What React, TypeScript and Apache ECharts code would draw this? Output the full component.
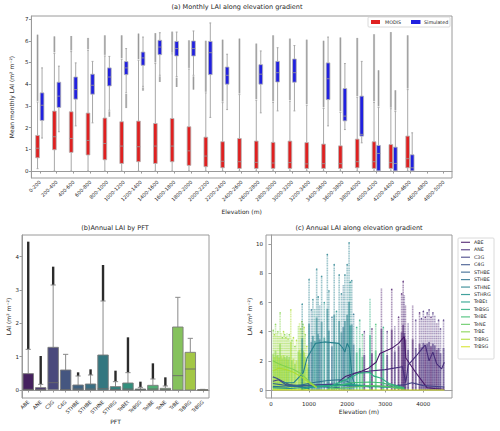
import React, { useEffect, useRef } from "react";
import * as echarts from "echarts";

// ---------- (a) monthly LAI per elevation bin ----------
const elevationBins = [
  "0-200", "200-400", "400-600", "600-800", "800-1000", "1000-1200", "1200-1400",
  "1400-1600", "1600-1800", "1800-2000", "2000-2200", "2200-2400", "2400-2600",
  "2600-2800", "2800-3000", "3000-3200", "3200-3400", "3400-3600", "3600-3800",
  "3800-4000", "4000-4200", "4200-4400", "4400-4600", "4600-4800", "4800-5000",
];
const yTicksA = [0, 1, 2, 3, 4, 5, 6, 7];

const modisWhiskerLow = [0.11, 0, 0, 0, 0, 0, 0, 0, 0, 0, 0, 0, 0, 0, 0, 0, 0, 0, 0, 0, 0, 0, 0, null, null];
const modisQ1 = [0.61, 0.98, 0.86, 0.74, 0.52, 0.35, 0.43, 0.35, 0.43, 0.26, 0.2, 0.15, 0.12, 0.12, 0.12, 0.12, 0.12, 0.12, 0.12, 0.15, 0.12, 0.12, 0.15, null, null];
const modisMedian = [1.05, 1.58, 1.5, 1.41, 1.27, 1.15, 1.12, 1.15, 1.15, 0.93, 0.69, 0.45, 0.43, 0.4, 0.37, 0.39, 0.33, 0.34, 0.34, 0.43, 0.43, 0.39, 0.57, null, null];
const modisQ3 = [1.64, 2.76, 2.73, 2.67, 2.44, 2.27, 2.3, 2.19, 2.42, 2.04, 1.56, 1.35, 1.5, 1.38, 1.32, 1.38, 1.31, 1.24, 1.16, 1.47, 1.35, 1.22, 1.61, null, null];
const modisWhiskerHigh = [3.18, 5.42, 5.5, 5.56, 5.3, 5.15, 5.1, 4.95, 5.4, 4.7, 3.6, 3.15, 3.52, 3.26, 3.16, 3.22, 3.03, 2.88, 2.7, 3.4, 3.16, 2.87, 3.75, null, null];
const modisFlierHigh = [6.28, 6.2, 6.22, 6.13, 6.25, 6.25, 6.33, 6.35, 6.42, 6.02, 6.0, 6.05, 6.1, 5.87, 6.25, 6.1, 6.05, 6.0, 6.15, 6.13, 6.3, 6.4, 6.25, null, null];

const simWhiskerLow = [1.52, 1.81, 2.08, 2.22, 2.8, 3.6, 3.9, 4.41, 4.35, 4.41, 2.47, 2.83, null, 2.68, 2.77, 2.77, null, 2.08, 1.91, 1.3, 0, 0, 0, null, null];
const simQ1 = [2.33, 2.93, 3.31, 3.54, 3.92, 4.44, 4.87, 5.36, 5.3, 5.3, 4.44, 4.0, null, 4.0, 4.1, 4.09, null, 3.29, 2.31, 1.61, 0.01, 0.01, 0.01, null, null];
const simMedian = [3.03, 3.45, 3.75, 3.95, 4.33, 4.75, 5.21, 5.71, 5.64, 5.64, 5.45, 4.41, null, 4.46, 4.53, 4.53, null, 4.25, 2.53, 1.69, 0.81, 0.35, 0.15, null, null];
const simQ3 = [3.6, 4.09, 4.33, 4.46, 4.75, 5.04, 5.48, 6.02, 5.97, 5.99, 5.97, 4.79, null, 4.9, 5.05, 5.16, null, 4.98, 3.8, 3.45, 1.18, 1.1, 0.75, null, null];
const simWhiskerHigh = [4.75, 4.83, 4.98, 5.05, 5.28, 5.64, 6.17, 6.37, 6.4, 6.45, 6.82, 5.38, null, 5.53, 5.68, 5.78, null, 6.17, 4.95, 5.05, 2.93, 2.74, 1.76, null, null];
const simFlierLow = [null, null, null, null, 2.5, 2.9, 3.7, 4.1, 3.87, 3.75, null, null, null, null, null, null, null, null, null, null, null, null, null, null, null];
const simFlierHigh = [null, null, null, null, null, null, null, null, null, null, null, null, null, null, null, null, null, null, null, null, 4.64, 3.72, null, null, null];

// ---------- (b) annual LAI per PFT ----------
const pftNames = [
  "ABE", "ANE", "C3G", "C4G", "STHBE", "STHBE", "STHNE", "STHRG",
  "TeBEt", "TeBSG", "TeIBE", "TeNE", "TrBE", "TrBRG", "TrBSG",
];
const yTicksB = [0, 1, 2, 3, 4];
const pftQ1 = [0, 0, 0.01, 0, 0, 0, 0, 0, 0, 0, 0, 0, 0, 0, 0];
const pftMedian = [0.02, 0.01, 0.22, 0.01, 0.03, 0.03, 0.04, 0.02, 0.03, 0.01, 0.03, 0.01, 0.43, 0.63, 0.0];
const pftQ3 = [0.49, 0.07, 1.28, 0.6, 0.15, 0.18, 1.05, 0.1, 0.21, 0.03, 0.14, 0.05, 1.89, 1.13, 0.01];
const pftWhiskerHigh = [1.22, 0.17, 3.15, 1.07, 0.42, 0.45, 2.67, 0.25, 0.52, 0.08, 0.33, 0.12, 2.78, 1.55, 0.02];
const pftFlierHigh = [4.45, 1.02, 3.7, null, 0.53, 0.62, 3.75, 0.58, 1.58, 0.25, 0.8, 0.38, null, null, null];

// ---------- (c) annual LAI against elevation ----------
const xTicksC = [0, 1000, 2000, 3000, 4000];
const yTicksC = [0, 2, 4, 6, 8, 10];

// vertical columns of grid-cell values: elevation, highest LAI, PFT index
const columnElevation = [
  60, 90, 120, 150, 180, 210, 240, 270, 300, 330, 360, 390, 420, 450, 480, 520, 550, 590, 630, 670,
  720, 750, 780, 810, 840, 870, 900, 940, 980,
  820, 1000, 1060, 1100, 1150, 1200, 1240, 1280, 1330, 1400, 1480, 1520, 1600, 1660, 1720, 1790,
  1850, 1900, 1940, 2000, 2050, 2080, 2120, 2170,
  2250, 2330, 2400, 2450, 2600, 2650, 2750, 2900, 2950, 3050, 3170, 3250, 3350, 3430, 3470, 3500, 3530,
  3600, 3720, 3800, 3900, 3950, 4000, 4050, 4100, 4150, 4200, 4250, 4300, 4350, 4400, 4450, 4530,
];
const columnTop = [
  4.1, 3.8, 4.5, 3.9, 4.0, 3.7, 5.3, 3.9, 3.6, 4.0, 3.8, 3.6, 3.9, 3.5, 3.8, 5.5, 3.4, 3.6, 3.0, 3.4,
  4.4, 4.6, 4.2, 4.7, 4.5, 4.3, 3.8, 3.0, 2.5,
  5.9, 7.6, 5.5, 6.2, 5.6, 8.3, 6.4, 5.8, 7.8, 6.0, 9.3, 6.8, 5.0, 8.6, 5.4, 7.9,
  6.6, 7.2, 7.9, 8.6, 10.1, 7.4, 7.5, 5.2,
  4.3, 4.8, 3.8, 4.0, 6.3, 4.2, 4.5, 7.0, 4.3, 4.0, 6.9, 4.4, 5.0, 6.6, 7.45, 6.5, 5.8,
  4.6, 5.8, 4.8, 5.3, 4.9, 5.4, 5.0, 5.3, 5.5, 5.0, 5.3, 5.1, 4.6, 4.8, 4.2, 4.8,
];
const columnPft = [
  12, 13, 12, 13, 12, 13, 12, 13, 12, 13, 12, 13, 12, 13, 12, 13, 12, 13, 12, 13,
  12, 13, 12, 13, 12, 13, 12, 13, 12,
  6, 6, 5, 6, 7, 6, 6, 5, 6, 7, 6, 6, 5, 6, 7, 6,
  6, 5, 6, 6, 6, 7, 6, 5,
  9, 9, 10, 1, 9, 0, 10, 0, 9, 1, 0, 1, 0, 0, 0, 1, 0,
  1, 0, 1, 0, 1, 1, 0, 1, 1, 0, 1, 1, 0, 1, 1, 1,
];

// mean LAI along elevation for each PFT: [elevation, LAI]
const meanLines: number[][][] = [
  [[1780, 0.57], [1950, 0.92], [2200, 1.15], [2390, 1.3], [2560, 1.5], [2760, 1.9], [2860, 2.5], [3170, 2.86], [3350, 3.2], [3500, 3.66], [3540, 2.2], [3800, 1.2], [4100, 0.15], [4300, 0.1], [4550, 0.05]],
  [[2000, 0.8], [2200, 1.15], [2600, 1.3], [3000, 1.4], [3450, 1.6], [3540, 0.5], [3600, 1.7], [3800, 2.3], [4050, 3.1], [4150, 2.0], [4250, 2.6], [4350, 1.8], [4480, 1.45], [4550, 1.9]],
  [[50, 0.6], [200, 0.7], [400, 0.35], [800, 0.3], [1200, 0.35], [1600, 0.4], [2000, 0.3], [2500, 0.25], [3000, 0.25], [3500, 0.35], [3700, 0.5], [4000, 0.3], [4550, 0.2]],
  [[50, 0.9], [150, 0.8], [300, 0.6], [500, 0.35], [800, 0.2], [1000, 0.1]],
  [[50, 0.45], [300, 0.35], [600, 0.25], [1000, 0.3], [1400, 0.2], [1800, 0.15]],
  [[50, 0.25], [400, 0.2], [800, 0.35], [1200, 0.55], [1500, 0.65], [1800, 0.7], [2000, 0.6], [2200, 0.3], [2600, 0.2]],
  [[300, 0.5], [600, 0.5], [850, 1.2], [950, 2.2], [1080, 2.8], [1170, 3.2], [1400, 3.3], [1780, 3.2], [1880, 2.9], [1940, 2.6], [2000, 3.2], [2060, 2.9], [2130, 0.9], [2200, 0.4]],
  [[50, 0.15], [500, 0.1], [1000, 0.2], [1500, 0.3], [2000, 0.35], [2500, 0.25], [3000, 0.2], [3500, 0.15]],
  [[800, 0.05], [1200, 0.25], [1600, 0.3], [2000, 0.4], [2400, 0.3], [3000, 0.2], [3500, 0.1]],
  [[1200, 0.2], [1600, 0.3], [2100, 0.85], [2300, 1.15], [2600, 1.2], [2700, 0.95], [2900, 0.8], [3100, 0.45], [3500, 0.15]],
  [[1500, 0.1], [2100, 0.5], [2600, 0.55], [2900, 0.5], [3200, 0.3], [3500, 0.1]],
  [[1500, 0.05], [2200, 0.2], [2600, 0.3], [3000, 0.25], [3500, 0.05]],
  [[50, 2.0], [200, 1.8], [400, 1.6], [600, 1.4], [800, 1.1], [1000, 0.6], [1200, 0.2]],
  [[50, 1.3], [200, 1.5], [400, 1.4], [600, 1.2], [800, 0.9], [1000, 0.5], [1200, 0.15]],
  [[50, 0.0], [4550, 0.0]],
];

const viridis15 = [
  "#471769", "#462c7a", "#424085", "#3b528a", "#34628d", "#2d728e", "#27818d", "#21918c",
  "#229f87", "#2bae7f", "#40bc72", "#5fc860", "#82d34c", "#acdc31", "#d5e226",
];

const FONT = "DejaVu Sans";
const TEXT = "#262626";
const SPINE = "#9a9a9a";

// reduce HLS saturation the way box fills are muted
function mute(hex: string, f = 0.75): string {
  const ch = [1, 3, 5].map((k) => parseInt(hex.slice(k, k + 2), 16) / 255);
  const mx = Math.max(...ch), mn = Math.min(...ch);
  const l = (mx + mn) / 2, d = mx - mn;
  if (d === 0) return hex;
  const s = l > 0.5 ? d / (2 - mx - mn) : d / (mx + mn);
  const c2 = (1 - Math.abs(2 * l - 1)) * s * f;
  return "#" + ch.map((c) => Math.round((l + (c - l) * (c2 / d)) * 255).toString(16).padStart(2, "0")).join("");
}

const RED = mute("#ff0000");
const BLUE = mute("#0000ff");

const num = (v: number | null) => (v == null ? NaN : v);

function binRows(lo: (number | null)[], q1: (number | null)[], med: (number | null)[], q3: (number | null)[], hi: (number | null)[], fLo: (number | null)[] | null, fHi: (number | null)[] | null) {
  const rows: number[][] = [];
  elevationBins.forEach((_, i) => {
    if (q1[i] == null) return;
    rows.push([i, num(lo[i]), num(q1[i]), num(med[i]), num(q3[i]), num(hi[i]), fLo ? num(fLo[i]) : NaN, fHi ? num(fHi[i]) : NaN]);
  });
  return rows;
}

function pairedBox(side: number, fill: string) {
  return (params: any, api: any) => {
    const i = api.value(0);
    const [lo, q1, med, q3, hi, fLo, fHi] = [1, 2, 3, 4, 5, 6, 7].map((d) => api.value(d));
    const band = api.size([1, 0])[0];
    const cx = api.coord([i, 0])[0];
    const w = band * 0.22;
    const bx = side < 0 ? cx - w - 0.4 : cx + 0.4;
    const mx = bx + w / 2;
    const y = (v: number) => api.coord([i, v])[1];
    const kids: any[] = [];
    const flier = (a: number, b: number) => {
      kids.push({ type: "line", shape: { x1: mx, y1: y(a), x2: mx, y2: y(b) }, style: { stroke: "#d0d0d0", lineWidth: 2.2 } });
      kids.push({ type: "line", shape: { x1: mx, y1: y(a), x2: mx, y2: y(b) }, style: { stroke: "#808080", lineWidth: 0.7 } });
    };
    if (!isNaN(fHi)) flier(hi + 0.05, fHi);
    if (!isNaN(fLo)) flier(lo - 0.05, fLo);
    const wk = { stroke: "#a8a8a8", lineWidth: 1 };
    kids.push({ type: "line", shape: { x1: mx, y1: y(q3), x2: mx, y2: y(hi) }, style: wk });
    kids.push({ type: "line", shape: { x1: mx, y1: y(q1), x2: mx, y2: y(lo) }, style: wk });
    kids.push({ type: "line", shape: { x1: mx - w / 4, y1: y(hi), x2: mx + w / 4, y2: y(hi) }, style: wk });
    kids.push({ type: "line", shape: { x1: mx - w / 4, y1: y(lo), x2: mx + w / 4, y2: y(lo) }, style: wk });
    kids.push({ type: "rect", shape: { x: bx, y: y(q3), width: w, height: y(q1) - y(q3) }, style: { fill, stroke: "#b4b4b4", lineWidth: 0.8 } });
    kids.push({ type: "line", shape: { x1: bx, y1: y(med), x2: bx + w, y2: y(med) }, style: { stroke: "#9a9a9a", lineWidth: 0.8 } });
    return { type: "group", children: kids };
  };
}

function pftBox(params: any, api: any) {
  const i = api.value(0);
  const [q1, med, q3, hi, fHi] = [1, 2, 3, 4, 5].map((d) => api.value(d));
  const band = api.size([1, 0])[0];
  const cx = api.coord([i, 0])[0];
  const w = band * 0.84;
  const y = (v: number) => api.coord([i, v])[1];
  const fill = mute(viridis15[i]);
  const kids: any[] = [];
  if (!isNaN(fHi)) {
    kids.push({ type: "line", shape: { x1: cx, y1: y(hi), x2: cx, y2: y(fHi) }, style: { stroke: "#2b2b2b", lineWidth: 2.4 } });
  }
  const wk = { stroke: "#8a8a8a", lineWidth: 1 };
  kids.push({ type: "line", shape: { x1: cx, y1: y(q3), x2: cx, y2: y(hi) }, style: wk });
  kids.push({ type: "line", shape: { x1: cx - w / 4, y1: y(hi), x2: cx + w / 4, y2: y(hi) }, style: wk });
  kids.push({ type: "rect", shape: { x: cx - w / 2, y: y(q3), width: w, height: Math.max(y(q1) - y(q3), 0.6) }, style: { fill, stroke: "#7a7a7a", lineWidth: 0.9 } });
  kids.push({ type: "line", shape: { x1: cx - w / 2, y1: y(med), x2: cx + w / 2, y2: y(med) }, style: { stroke: "#6a6a6a", lineWidth: 0.9 } });
  return { type: "group", children: kids };
}

function columnItem(params: any, api: any) {
  const e = api.value(0);
  const top = api.value(1);
  const color = viridis15[api.value(2)];
  const p = api.coord([e, 0]);
  const q = api.coord([e, top]);
  const mid = api.coord([e, top * 0.6]);
  return {
    type: "group",
    children: [
      { type: "line", shape: { x1: p[0], y1: p[1], x2: q[0], y2: q[1] }, style: { stroke: color, lineWidth: 1.6, opacity: 0.45, lineDash: [1.2, 0.5] } },
      { type: "line", shape: { x1: p[0], y1: p[1], x2: mid[0], y2: mid[1] }, style: { stroke: color, lineWidth: 1.9, opacity: 0.55 } },
      { type: "circle", shape: { cx: q[0], cy: q[1], r: 0.75 }, style: { fill: color, opacity: 0.8 } },
    ],
  };
}

const tickLabel = { fontFamily: FONT, fontSize: 5.5, color: TEXT };
const nameStyle = { fontFamily: FONT, fontSize: 6, color: TEXT };
const spine = { show: true, lineStyle: { color: SPINE, width: 1 } };
const tick = { show: true, length: 2.5, lineStyle: { color: SPINE } };

function buildOption(): any {
  const modisRows = binRows(modisWhiskerLow, modisQ1, modisMedian, modisQ3, modisWhiskerHigh, null, modisFlierHigh);
  const simRows = binRows(simWhiskerLow, simQ1, simMedian, simQ3, simWhiskerHigh, simFlierLow, simFlierHigh);
  const pftRows = pftNames.map((_, i) => [i, pftQ1[i], pftMedian[i], pftQ3[i], pftWhiskerHigh[i], num(pftFlierHigh[i])]);
  const columns = columnElevation.map((e, i) => [e, columnTop[i], columnPft[i]]);

  const legendItems: any[] = [];
  pftNames.forEach((n, i) => {
    const yy = 242.3 + i * 7.46;
    legendItems.push({ type: "line", shape: { x1: 461, y1: yy, x2: 470, y2: yy }, style: { stroke: viridis15[i], lineWidth: 1.2, opacity: 0.85 } });
    legendItems.push({ type: "text", x: 474, y: yy, style: { text: n, font: `4.8px "${FONT}"`, fill: TEXT, verticalAlign: "middle" } });
  });

  return {
    animation: false,
    backgroundColor: "#ffffff",
    grid: [
      { left: 22, top: 16, width: 430, height: 162, show: true, borderColor: SPINE, borderWidth: 1 },
      { left: 22, top: 235, width: 187, height: 163, show: true, borderColor: SPINE, borderWidth: 1 },
      { left: 266, top: 235, width: 186, height: 163, show: true, borderColor: SPINE, borderWidth: 1 },
    ],
    xAxis: [
      {
        gridIndex: 0, type: "category", data: elevationBins, boundaryGap: true,
        axisLine: spine, axisTick: { ...tick, alignWithLabel: true, interval: 0 },
        axisLabel: { ...tickLabel, fontSize: 5, rotate: 45, interval: 0, margin: 3 },
        name: "Elevation (m)", nameLocation: "middle", nameGap: 30, nameTextStyle: nameStyle,
        splitLine: { show: false },
      },
      {
        gridIndex: 1, type: "category", data: pftNames, boundaryGap: true,
        axisLine: spine, axisTick: { ...tick, alignWithLabel: true, interval: 0 },
        axisLabel: { ...tickLabel, fontSize: 5, rotate: 45, interval: 0, margin: 3 },
        name: "PFT", nameLocation: "middle", nameGap: 19, nameTextStyle: nameStyle,
        splitLine: { show: false },
      },
      {
        gridIndex: 2, type: "value", min: -130, max: 4752,
        axisLine: spine, axisTick: { ...tick, customValues: xTicksC },
        axisLabel: { ...tickLabel, customValues: xTicksC, margin: 3, formatter: (v: number) => String(v) },
        name: "Elevation (m)", nameLocation: "middle", nameGap: 10, nameTextStyle: nameStyle,
        splitLine: { show: false },
      },
    ],
    yAxis: [
      {
        gridIndex: 0, type: "value", min: -0.32, max: 7.14,
        axisLine: spine, axisTick: { ...tick, customValues: yTicksA },
        axisLabel: { ...tickLabel, customValues: yTicksA, margin: 3 },
        name: "Mean monthly LAI (m² m⁻²)", nameLocation: "middle", nameGap: 10, nameRotate: 90, nameTextStyle: nameStyle,
        splitLine: { show: false },
      },
      {
        gridIndex: 1, type: "value", min: -0.24, max: 4.65,
        axisLine: spine, axisTick: { ...tick, customValues: yTicksB },
        axisLabel: { ...tickLabel, customValues: yTicksB, margin: 3 },
        name: "LAI (m² m⁻²)", nameLocation: "middle", nameGap: 10, nameRotate: 90, nameTextStyle: nameStyle,
        splitLine: { show: false },
      },
      {
        gridIndex: 2, type: "value", min: -0.55, max: 10.64,
        axisLine: spine, axisTick: { ...tick, customValues: yTicksC },
        axisLabel: { ...tickLabel, customValues: yTicksC, margin: 3 },
        name: "LAI (m² m⁻²)", nameLocation: "middle", nameGap: 12, nameRotate: 90, nameTextStyle: nameStyle,
        splitLine: { show: false },
      },
    ],
    series: [
      { type: "custom", name: "MODIS", xAxisIndex: 0, yAxisIndex: 0, data: modisRows, renderItem: pairedBox(-1, RED), encode: { x: 0, y: [1, 2, 3, 4, 5] }, clip: true },
      { type: "custom", name: "Simulated", xAxisIndex: 0, yAxisIndex: 0, data: simRows, renderItem: pairedBox(1, BLUE), encode: { x: 0, y: [1, 2, 3, 4, 5] }, clip: true },
      { type: "custom", name: "PFT", xAxisIndex: 1, yAxisIndex: 1, data: pftRows, renderItem: pftBox, encode: { x: 0, y: [1, 2, 3, 4] }, clip: true },
      { type: "custom", name: "cells", xAxisIndex: 2, yAxisIndex: 2, data: columns, renderItem: columnItem, encode: { x: 0, y: 1 }, clip: true, z: 1 },
      ...meanLines.map((pts, i) => ({
        type: "line", name: pftNames[i], xAxisIndex: 2, yAxisIndex: 2, data: pts,
        showSymbol: false, symbol: "none", z: 3,
        lineStyle: { color: viridis15[i], width: 1.1 },
      })),
    ],
    graphic: [
      { type: "text", x: 237, y: 7, style: { text: "(a) Monthly LAI along elevation gradient", font: `6.5px "${FONT}"`, fill: TEXT, align: "center", verticalAlign: "middle" } },
      { type: "text", x: 115, y: 228, style: { text: "(b)Annual LAI by PFT", font: `6.5px "${FONT}"`, fill: TEXT, align: "center", verticalAlign: "middle" } },
      { type: "text", x: 359, y: 228, style: { text: "(c) Annual LAI along elevation gradient", font: `6.5px "${FONT}"`, fill: TEXT, align: "center", verticalAlign: "middle" } },
      // legend of panel (a)
      { type: "rect", shape: { x: 368, y: 17, width: 82, height: 10, r: 1 }, style: { fill: "#ffffff", stroke: "#d0d0d0", lineWidth: 0.8 } },
      { type: "rect", shape: { x: 371, y: 20, width: 9, height: 4 }, style: { fill: RED } },
      { type: "text", x: 385, y: 22, style: { text: "MODIS", font: `4.8px "${FONT}"`, fill: TEXT, verticalAlign: "middle" } },
      { type: "rect", shape: { x: 411, y: 20, width: 9.5, height: 4 }, style: { fill: BLUE } },
      { type: "text", x: 424, y: 22, style: { text: "Simulated", font: `4.8px "${FONT}"`, fill: TEXT, verticalAlign: "middle" } },
      // legend of panel (c)
      { type: "rect", shape: { x: 458, y: 238, width: 36, height: 121, r: 1 }, style: { fill: "#ffffff", stroke: "#d0d0d0", lineWidth: 0.8 } },
      ...legendItems,
    ],
  };
}

export default function App() {
  const ref = useRef<HTMLDivElement>(null);
  useEffect(() => {
    if (!ref.current) return;
    const chart = echarts.init(ref.current, undefined, { renderer: "svg" });
    chart.setOption(buildOption());
    return () => chart.dispose();
  }, []);
  return <div ref={ref} style={{ width: 500, height: 431, position: "absolute", left: 0, top: 0 }} />;
}
